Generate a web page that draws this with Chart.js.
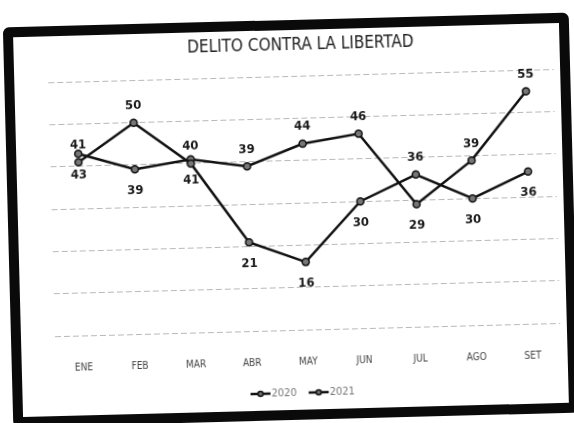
<!DOCTYPE html>
<html>
<head>
<meta charset="utf-8">
<script src="https://cdn.jsdelivr.net/npm/chart.js@4.4.1/dist/chart.umd.min.js"></script>
<style>
    html, body { margin: 0; padding: 0; background: #fff; overflow: hidden; }
    #marco {
        position: absolute;
        left: 8px; top: 20px;
        width: 566px; height: 400px;
        box-sizing: border-box;
        border: 10px solid #0a0a0a;
        border-radius: 6px;
        background: #fff;
        transform: rotate(-1.5deg);
    }
    #caja { position: relative; width: 546px; height: 380px; }
</style>
</head>
<body>
<div id="marco"><div id="caja"><canvas id="grafico"></canvas></div></div>
<script>
const meses = ['ENE', 'FEB', 'MAR', 'ABR', 'MAY', 'JUN', 'JUL', 'AGO', 'SET'];
const datos2020 = [41, 50, 40, 21, 16, 30, 36, 30, 36];
const datos2021 = [43, 39, 41, 39, 44, 46, 29, 39, 55];

// donde va cada etiqueta respecto a su punto
const lado2020 = ['arriba', 'arriba', 'arriba', 'abajo', 'abajo', 'abajo', 'arriba', 'abajo', 'abajo'];
const lado2021 = ['abajo', 'abajo', 'abajo', 'arriba', 'arriba', 'arriba', 'abajo', 'arriba', 'arriba'];

const fuente = "'DejaVu Sans Condensed', 'Liberation Sans Narrow', Roboto, sans-serif";

function marca(g, x, y) {
    g.strokeStyle = '#111';
    g.lineWidth = 2.5;
    g.beginPath();
    g.moveTo(x - 10, y);
    g.lineTo(x + 10, y);
    g.stroke();
    g.fillStyle = '#777';
    g.lineWidth = 1.5;
    g.beginPath();
    g.arc(x, y, 2.5, 0, Math.PI * 2);
    g.fill();
    g.stroke();
}

const etiquetas = {
    id: 'etiquetas',
    afterDatasetsDraw(chart) {
        const ctx = chart.ctx;
        const lados = [lado2020, lado2021];
        ctx.save();
        ctx.font = "bold 13px " + fuente;
        ctx.fillStyle = '#1a1a1a';
        ctx.textAlign = 'center';
        ctx.textBaseline = 'middle';
        chart.data.datasets.forEach((ds, i) => {
            chart.getDatasetMeta(i).data.forEach((p, j) => {
                const dy = lados[i][j] === 'arriba' ? -17 : 21;
                ctx.fillText(ds.data[j], p.x, p.y + dy);
            });
        });
        ctx.restore();
    }
};

// leyenda dibujada a mano para poder ponerla cerca de los meses
const leyenda = {
    id: 'leyenda',
    afterDraw(chart) {
        const ctx = chart.ctx;
        const y = chart.height - 17;
        let x = 228;
        ctx.save();
        ctx.font = "11px " + fuente;
        ctx.fillStyle = '#222';
        ctx.textBaseline = 'middle';
        chart.data.datasets.forEach(ds => {
            marca(ctx, x + 10, y);
            ctx.fillText(ds.label, x + 21, y);
            x += 21 + ctx.measureText(ds.label).width + 12;
        });
        ctx.restore();
    }
};

const ctx = document.getElementById('grafico').getContext('2d');
new Chart(ctx, {
    type: 'line',
    data: {
        labels: meses,
        datasets: [
            {
                label: '2020',
                data: datos2020,
                borderColor: '#111',
                backgroundColor: '#777',
                borderWidth: 2.5,
                pointRadius: 3.5,
                pointBorderWidth: 1.5,
                pointBorderColor: '#111',
                tension: 0
            },
            {
                label: '2021',
                data: datos2021,
                borderColor: '#111',
                backgroundColor: '#777',
                borderWidth: 2.5,
                pointRadius: 3.5,
                pointBorderWidth: 1.5,
                pointBorderColor: '#111',
                tension: 0
            }
        ]
    },
    options: {
        responsive: true,
        maintainAspectRatio: false,
        animation: false,
        layout: {
            padding: { left: 34, right: 6, top: 0, bottom: 16 }
        },
        plugins: {
            title: {
                display: true,
                text: 'DELITO CONTRA LA LIBERTAD',
                color: '#222',
                font: { family: fuente, size: 17, weight: 'normal' },
                padding: { top: 5, bottom: 21 }
            },
            legend: { display: false },
            tooltip: { enabled: false }
        },
        scales: {
            x: {
                offset: true,
                grid: { display: false, drawTicks: false },
                border: { display: false },
                ticks: {
                    color: '#444',
                    font: { family: fuente, size: 10 },
                    padding: 26
                }
            },
            y: {
                min: 0,
                max: 60,
                ticks: { display: false, stepSize: 10 },
                grid: { color: 'rgba(0,0,0,0.28)', drawTicks: false },
                border: { display: false, dash: [6, 3] }
            }
        }
    },
    plugins: [etiquetas, leyenda]
});
</script>
</body>
</html>
